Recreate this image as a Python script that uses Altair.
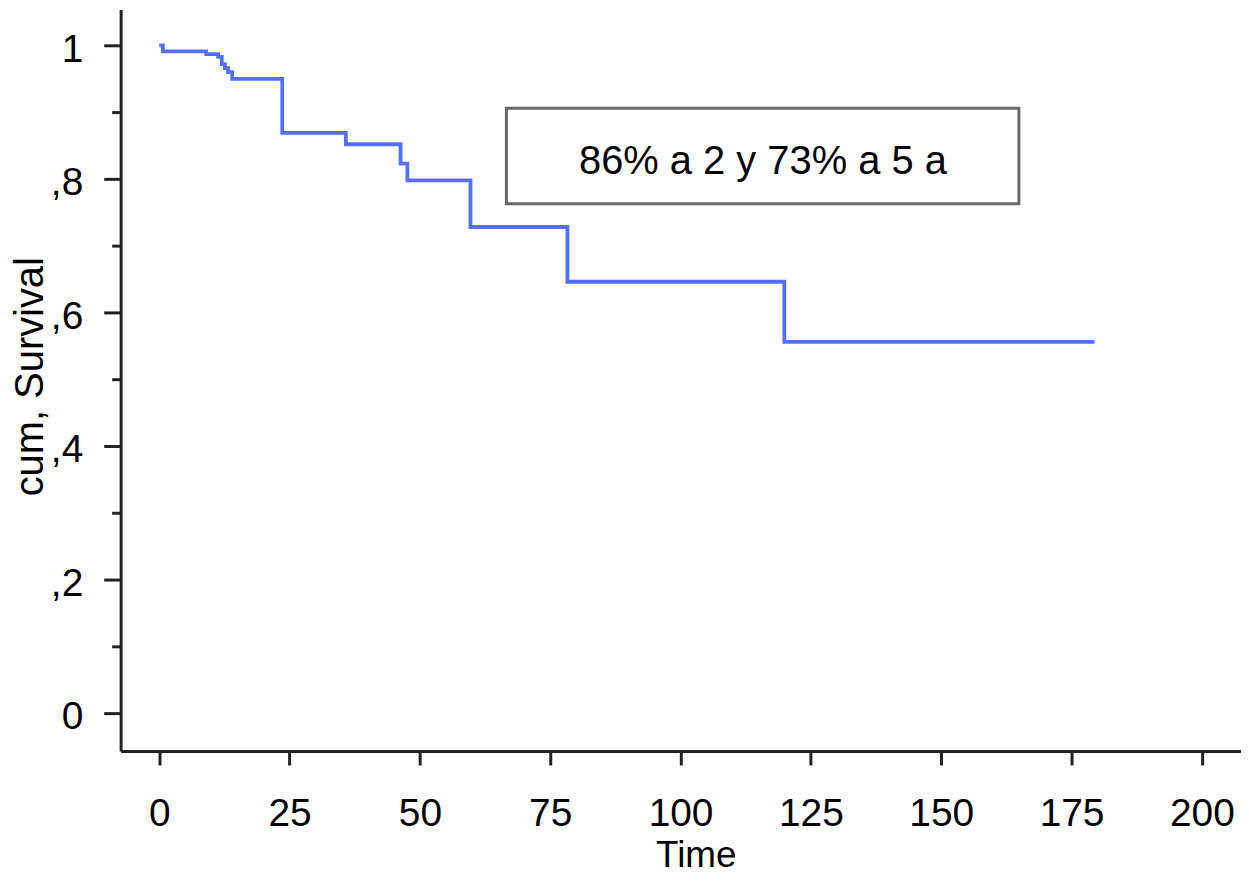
import altair as alt
import pandas as pd

# Kaplan-Meier curve (months, cumulative survival)
time = [0, 0.7, 9.0, 11.3, 12.0, 12.6, 13.2, 14.0, 23.6, 35.8, 46.3, 47.6, 59.7, 78.3, 119.9, 179.4]
surv = [1.0, 0.991, 0.987, 0.983, 0.972, 0.966, 0.960, 0.950, 0.869, 0.852, 0.823, 0.798, 0.728, 0.646, 0.556, 0.556]

x_ticks = [0, 25, 50, 75, 100, 125, 150, 175, 200]
y_ticks = [0, 0.2, 0.4, 0.6, 0.8, 1.0]
y_tick_labels = ["0", ",2", ",4", ",6", ",8", "1"]
y_minor = [0.1, 0.3, 0.5, 0.7, 0.9]

box_x = [66.6, 164.9]
box_y = [0.763, 0.906]
note_x = [115.8]
note_y = [0.807]
note_text = ["86% a 2 y 73% a 5 a"]

FONT = "Liberation Sans"
AX = "#222222"

curve = pd.DataFrame({"time": time, "surv": surv})
box = pd.DataFrame({"x1": [box_x[0]], "x2": [box_x[1]], "y1": [box_y[0]], "y2": [box_y[1]]})
note = pd.DataFrame({"x": note_x, "y": note_y, "t": note_text})

x_scale = alt.Scale(domain=[-7.4, 207.5], nice=False, zero=False)
y_scale = alt.Scale(domain=[-0.057, 1.054], nice=False, zero=False)

label_expr = " : ".join(
    [f"abs(datum.value - {v}) < 0.001 ? '{l}'" for v, l in zip(y_ticks, y_tick_labels)]
) + " : ''"

x_axis = alt.Axis(
    values=x_ticks, tickSize=14, tickWidth=3, tickColor=AX,
    domainColor=AX, domainWidth=3, grid=False,
    labelFont=FONT, labelFontSize=39, labelColor="black", labelPadding=30,
    title="Time", titleFont=FONT, titleFontSize=37, titleFontWeight="normal",
    titleColor="black", titleX=577, titleY=116, titleAlign="center",
    titleBaseline="alphabetic")

line = alt.Chart(curve).mark_line(
    interpolate="step-after", color="#5570ff", strokeWidth=3.8
).encode(
    x=alt.X("time:Q", scale=x_scale, axis=x_axis, title="Time"),
    y=alt.Y("surv:Q", scale=y_scale, axis=alt.Axis(
        orient="left", values=y_ticks, labelExpr=label_expr,
        tickSize=17, tickWidth=3, tickColor=AX,
        domainColor=AX, domainWidth=3, grid=False,
        labelFont=FONT, labelFontSize=39, labelColor="black", labelPadding=21,
        labelOffset=4,
        title="cum, Survival", titleFont=FONT, titleFontSize=40,
        titleFontWeight="normal", titleColor="black", titleAngle=270,
        titleX=-78, titleY=368, titleBaseline="alphabetic", titleAlign="center")),
)

minor = alt.Chart(curve).mark_line(opacity=0).encode(
    x=alt.X("time:Q", scale=x_scale, axis=x_axis, title="Time"),
    y=alt.Y("surv:Q", scale=y_scale, axis=alt.Axis(
        orient="left", values=y_minor, labels=False, domain=False, grid=False,
        tickSize=9, tickWidth=3, tickColor=AX, title=None)),
)

rect = alt.Chart(box).mark_rect(fill="white", stroke="#6a6a6a", strokeWidth=3).encode(
    x=alt.X("x1:Q", scale=x_scale, axis=x_axis, title="Time"),
    x2="x2:Q",
    y=alt.Y("y1:Q", scale=y_scale, axis=None),
    y2="y2:Q",
)

text = alt.Chart(note).mark_text(
    font=FONT, fontSize=40, color="black", align="center", baseline="alphabetic"
).encode(
    x=alt.X("x:Q", scale=x_scale, axis=x_axis, title="Time"),
    y=alt.Y("y:Q", scale=y_scale, axis=None),
    text="t:N",
)

chart = alt.layer(line, minor, rect, text).resolve_axis(y="independent").properties(
    width=1124, height=744,
    autosize=alt.AutoSizeParams(type="none"),
    padding={"left": 113, "top": 0, "right": 0, "bottom": 125},
).configure(background="white", view=alt.ViewConfig(stroke=None))

chart.save("out.html", embed_options={"renderer": "svg", "actions": False})
